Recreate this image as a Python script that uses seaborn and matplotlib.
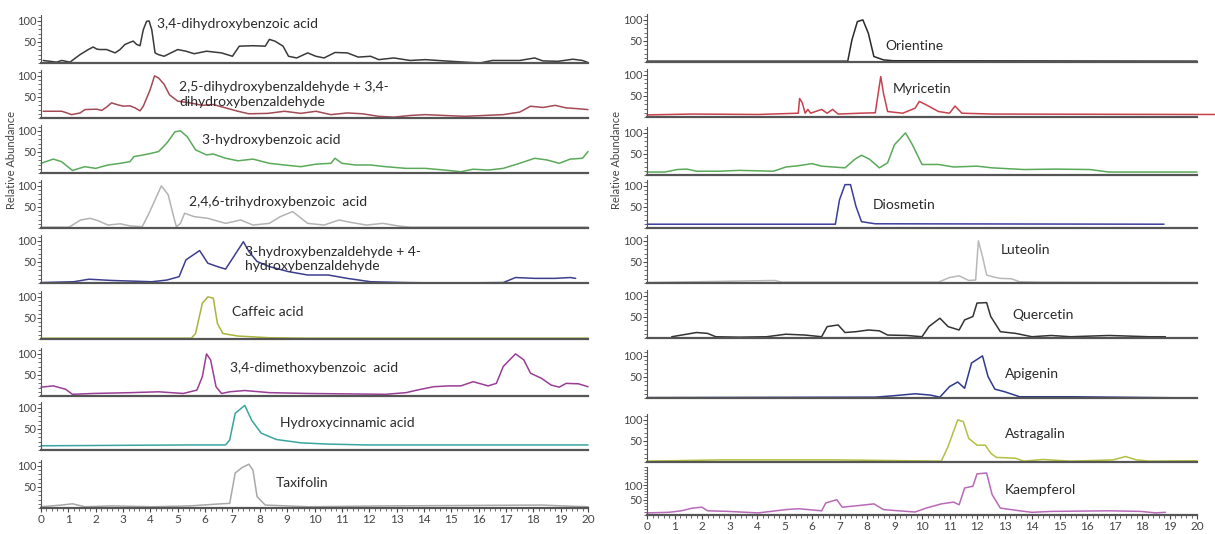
import matplotlib
matplotlib.use('Agg')
import matplotlib.pyplot as plt
import seaborn as sns
from matplotlib.ticker import MultipleLocator

# ---- left column: retention time (min) / relative abundance (%) ----
DHBA_T = [0.08, 0.57, 0.76, 1.06, 1.18, 1.43, 1.73, 1.91, 2.04, 2.16, 2.4, 2.71, 2.89, 3.07, 3.25, 3.37, 3.5,
          3.62, 3.74, 3.86, 3.95, 4.05, 4.17, 4.29, 4.5, 4.75, 5.0, 5.3, 5.6, 6.05, 6.6, 7.0, 7.25, 7.75, 8.2,
          8.35, 8.55, 8.85, 9.05, 9.35, 9.75, 10.05, 10.35, 10.75, 11.2, 11.6, 12.05, 12.35, 12.9, 13.5, 14.05,
          14.75, 15.5, 16.05, 16.5, 17.5, 18.05, 18.35, 18.9, 19.45, 19.8, 20.0]
DHBA_Y = [6, 2, 6, 2, 8, 20, 32, 38, 33, 32, 32, 24, 32, 44, 49, 52, 44, 41, 79, 99, 100, 79, 24, 20, 16, 24,
          32, 28, 22, 28, 24, 16, 40, 41, 40, 56, 52, 40, 16, 12, 24, 16, 12, 25, 24, 14, 16, 8, 12, 6, 8, 5, 2,
          0, 6, 6, 12, 5, 4, 9, 6, 1]

DHBAL_T = [0.08, 0.76, 0.95, 1.12, 1.43, 1.61, 2.04, 2.22, 2.4, 2.58, 2.77, 3.01, 3.25, 3.44, 3.62, 3.74, 3.99,
           4.15, 4.3, 4.5, 4.7, 5.0, 5.45, 5.9, 6.3, 6.75, 7.2, 7.6, 8.3, 8.9, 9.5, 10.05, 10.6, 11.2, 11.75,
           12.35, 12.9, 13.5, 14.05, 14.75, 15.5, 16.2, 16.9, 17.5, 17.9, 18.35, 18.8, 19.2, 19.65, 20.0]
DHBAL_Y = [16, 16, 12, 8, 12, 20, 21, 18, 26, 36, 32, 28, 29, 24, 17, 28, 67, 100, 95, 80, 55, 40, 36, 30, 32,
           24, 16, 10, 11, 16, 11, 16, 8, 12, 10, 4, 2, 6, 8, 6, 4, 6, 8, 14, 28, 25, 30, 24, 22, 20]

HBA_T = [0.0, 0.45, 0.75, 1.15, 1.6, 2.0, 2.45, 2.9, 3.25, 3.4, 3.75, 4.05, 4.3, 4.6, 4.9, 5.1, 5.35, 5.65, 6.05,
         6.3, 6.75, 7.2, 7.75, 8.35, 8.9, 9.5, 10.05, 10.6, 10.75, 11.0, 11.5, 12.05, 12.6, 13.35, 14.05, 14.75,
         15.35, 15.8, 16.35, 16.9, 17.5, 18.05, 18.5, 18.95, 19.35, 19.8, 20.0]
HBA_Y = [23, 33, 27, 6, 15, 11, 19, 23, 27, 39, 43, 47, 51, 71, 98, 100, 86, 55, 43, 45, 35, 29, 33, 23, 19, 15,
         21, 23, 35, 23, 19, 19, 15, 11, 11, 7, 3, 9, 7, 11, 23, 35, 31, 23, 33, 35, 51]

THBA_T = [0.0, 0.95, 1.05, 1.45, 1.8, 2.1, 2.45, 2.9, 3.25, 3.7, 3.95, 4.4, 4.65, 4.85, 4.95, 5.1, 5.25, 5.6,
          6.1, 6.75, 7.3, 7.75, 8.35, 8.75, 9.2, 9.75, 10.35, 10.9, 11.35, 11.9, 12.5, 13.05, 13.5, 16.9, 20.0]
THBA_Y = [2, 2, 3, 19, 23, 17, 7, 10, 5, 3, 35, 100, 79, 27, 3, 11, 35, 27, 23, 11, 19, 7, 11, 27, 39, 11, 7,
          19, 13, 7, 11, 5, 2, 2, 2]

HBAL_T = [0.0, 1.2, 1.75, 2.6, 4.05, 4.6, 5.05, 5.3, 5.8, 6.1, 6.45, 6.75, 7.05, 7.4, 7.6, 7.9, 8.35, 9.05,
          9.75, 10.5, 11.2, 12.05, 13.35, 14.75, 16.9, 17.35, 18.05, 18.8, 19.35, 19.55]
HBAL_Y = [1, 3, 9, 6, 3, 7, 15, 55, 77, 47, 39, 33, 63, 98, 75, 51, 39, 27, 19, 19, 11, 3, 1, 0, 1, 13, 11, 11,
          13, 11]

CAF_T = [0.0, 5.5, 5.65, 5.9, 6.1, 6.3, 6.45, 6.65, 7.2, 8.35, 9.75, 20.0]
CAF_Y = [2, 2, 13, 85, 100, 97, 37, 13, 7, 3, 2, 2]

DMBA_T = [0.0, 0.45, 0.9, 1.15, 1.9, 3.3, 4.3, 5.2, 5.7, 5.9, 6.05, 6.2, 6.4, 6.6, 6.9, 7.45, 8.35, 9.75,
          11.2, 12.6, 13.35, 13.75, 14.35, 14.9, 15.35, 15.8, 16.35, 16.65, 16.9, 17.35, 17.65, 17.9, 18.3,
          18.65, 18.95, 19.2, 19.65, 20.0]
DMBA_Y = [21, 24, 16, 4, 6, 8, 10, 6, 14, 46, 100, 86, 22, 6, 10, 13, 8, 6, 5, 4, 8, 14, 22, 24, 24, 34, 24, 30,
          70, 100, 86, 54, 42, 26, 21, 30, 29, 22]

HCA_T = [0.0, 5.45, 6.75, 6.9, 7.1, 7.45, 7.7, 8.05, 8.6, 9.5, 10.5, 11.9, 20.0]
HCA_Y = [10, 12, 12, 24, 87, 106, 71, 40, 25, 17, 14, 12, 12]

TAX_T = [0.0, 0.75, 1.15, 1.6, 2.6, 4.05, 5.45, 6.6, 6.9, 7.1, 7.35, 7.6, 7.75, 7.9, 8.2, 9.75, 12.6, 18.35,
         19.05, 20.0]
TAX_Y = [3, 7, 10, 3, 5, 3, 5, 10, 11, 83, 96, 104, 90, 27, 7, 3, 5, 7, 5, 3]

# ---- right column ----
ORI_T = [0.0, 7.3, 7.45, 7.65, 7.85, 8.05, 8.25, 8.6, 8.95, 20.0]
ORI_Y = [2, 2, 52, 96, 100, 68, 13, 5, 3, 2]

MYR_T = [0.0, 1.65, 4.05, 5.5, 5.55, 5.65, 5.75, 5.85, 5.95, 6.35, 6.55, 6.75, 6.95, 7.75, 8.3, 8.5, 8.6, 8.75,
         9.3, 9.75, 9.9, 10.15, 10.6, 11.0, 11.2, 11.45, 12.55, 20.0, 20.65]
MYR_Y = [5, 7, 6, 9, 44, 33, 9, 18, 9, 18, 9, 18, 7, 9, 10, 96, 56, 13, 9, 21, 37, 29, 13, 9, 26, 9, 7, 6, 6]

GRN_T = [0.0, 0.65, 1.1, 1.45, 1.8, 2.65, 3.35, 4.6, 5.05, 5.5, 6.0, 6.35, 7.2, 7.55, 7.8, 8.1, 8.45, 8.75,
         9.0, 9.4, 9.65, 10.0, 10.6, 11.15, 12.0, 12.55, 13.7, 14.85, 16.1, 16.8, 20.0]
GRN_Y = [7, 7, 13, 14, 9, 9, 11, 9, 19, 22, 27, 21, 17, 37, 47, 37, 17, 29, 72, 100, 72, 25, 25, 19, 21, 17, 13,
         14, 13, 7, 7]

DIO_T = [0.0, 6.85, 7.0, 7.2, 7.4, 7.6, 7.8, 8.3, 18.8]
DIO_Y = [9, 9, 67, 103, 103, 51, 15, 10, 9]

LUT_T = [0.0, 4.65, 4.9, 6.2, 10.6, 11.0, 11.35, 11.7, 11.95, 12.05, 12.2, 12.35, 12.55, 12.85, 13.25, 13.55,
         14.25, 20.0]
LUT_Y = [1, 6, 2, 2, 2, 13, 17, 6, 7, 100, 63, 19, 15, 11, 10, 3, 2, 1]

QUE_T = [0.9, 1.8, 2.2, 2.5, 3.35, 4.35, 5.05, 5.75, 6.35, 6.55, 6.95, 7.2, 7.6, 8.05, 8.45, 8.75, 9.45, 10.0,
         10.25, 10.65, 10.95, 11.35, 11.55, 11.85, 12.0, 12.35, 12.5, 12.85, 13.4, 14.0, 14.7, 15.4, 16.8,
         18.25, 18.85]
QUE_Y = [3, 13, 11, 3, 2, 3, 9, 7, 3, 27, 31, 13, 15, 19, 17, 7, 6, 3, 27, 47, 27, 19, 43, 51, 83, 84, 51, 15,
         11, 3, 6, 3, 6, 3, 3]

API_T = [0.0, 8.3, 8.9, 9.75, 10.3, 10.65, 11.0, 11.3, 11.55, 11.8, 12.2, 12.4, 12.65, 13.0, 13.55, 15.4, 20.0]
API_Y = [1, 2, 5, 10, 7, 2, 27, 38, 23, 83, 100, 51, 21, 15, 3, 3, 0]

AST_T = [0.0, 2.65, 6.9, 10.7, 10.95, 11.3, 11.5, 11.7, 12.0, 12.3, 12.5, 12.7, 13.4, 13.7, 14.4, 15.4, 16.95,
         17.4, 17.8, 18.25, 20.0]
AST_Y = [2, 5, 5, 2, 37, 100, 96, 56, 40, 40, 21, 11, 9, 2, 6, 2, 5, 13, 5, 2, 3]

KAE_T = [0.0, 0.8, 1.25, 1.65, 2.0, 2.2, 2.95, 4.05, 5.05, 5.5, 6.35, 6.5, 6.9, 7.1, 7.75, 8.25, 8.6, 9.15,
         9.75, 10.15, 10.7, 11.15, 11.35, 11.55, 11.85, 12.0, 12.35, 12.55, 12.85, 13.55, 14.0, 14.7, 16.8,
         17.95, 18.5, 18.85]
KAE_Y = [7, 9, 14, 23, 26, 14, 12, 7, 18, 21, 14, 40, 51, 26, 32, 37, 18, 14, 10, 23, 37, 43, 34, 90, 96, 137,
         140, 68, 23, 14, 9, 12, 14, 12, 7, 9]

LEFT_NAMES = ['3,4-dihydroxybenzoic acid', '2,5-dihydroxybenzaldehyde + 3,4-\ndihydroxybenzaldehyde',
              '3-hydroxybenzoic acid', '2,4,6-trihydroxybenzoic  acid',
              '3-hydroxybenzaldehyde + 4-\nhydroxybenzaldehyde', 'Caffeic acid',
              '3,4-dimethoxybenzoic  acid', 'Hydroxycinnamic acid', 'Taxifolin']
RIGHT_NAMES = ['Orientine', 'Myricetin', '', 'Diosmetin', 'Luteolin', 'Quercetin', 'Apigenin',
               'Astragalin', 'Kaempferol']

W, H = 1215, 534

left_panels = [(DHBA_T, DHBA_Y, '#3a3a3a'), (DHBAL_T, DHBAL_Y, '#a34a55'), (HBA_T, HBA_Y, '#5aaa5a'),
               (THBA_T, THBA_Y, '#b3b3b3'), (HBAL_T, HBAL_Y, '#3d3f8e'), (CAF_T, CAF_Y, '#a9b43c'),
               (DMBA_T, DMBA_Y, '#9a3d96'), (HCA_T, HCA_Y, '#3aa5a0'), (TAX_T, TAX_Y, '#a8a8a8')]
right_panels = [(ORI_T, ORI_Y, '#2a2a2a'), (MYR_T, MYR_Y, '#c8404c'), (GRN_T, GRN_Y, '#5aaa5a'),
                (DIO_T, DIO_Y, '#3b3d9c'), (LUT_T, LUT_Y, '#b8b8b8'), (QUE_T, QUE_Y, '#333333'),
                (API_T, API_Y, '#2e3a8c'), (AST_T, AST_Y, '#b4c040'), (KAE_T, KAE_Y, '#b86ab8')]

# layout in pixels: axis baseline per panel, and label anchor (time, abundance)
left_base = [63, 118, 173, 228, 283, 339, 396, 450, 508]
right_base = [62, 117, 175, 228, 283, 338, 398, 462, 515]
left_lab = [(4.25, 93), (5.05, 56), (5.9, 78), (5.4, 62), (7.45, 57), (7.0, 64), (6.9, 67), (8.75, 64),
            (8.6, 60)]
right_lab = [(8.65, 38), (8.95, 67), (0, 0), (8.2, 55), (12.85, 78), (13.3, 55), (13.0, 57), (13.0, 67),
             (13.0, 83)]

sns.set_style('white')
plt.rcParams['font.family'] = ['Lato', 'DejaVu Sans']

fig = plt.figure(figsize=(W / 100, H / 100), dpi=100)


def make_axis(x0, x1, base, ymax, last):
    ax = fig.add_axes([x0 / W, 1 - base / H, (x1 - x0) / W, 48 / H])
    ax.set_xlim(0, 20)
    ax.set_ylim(0, ymax)
    sns.despine(ax=ax, top=True, right=True)
    ax.spines['bottom'].set_color('#555555')
    ax.spines['bottom'].set_linewidth(1.6)
    ax.spines['left'].set_color('#555555')
    ax.spines['left'].set_linewidth(0.8)
    ax.set_yticks([50, 100])
    ax.yaxis.set_minor_locator(MultipleLocator(10))
    ax.tick_params(axis='y', which='major', length=3, width=0.7, labelsize=8, pad=0.5,
                   colors='#444444', direction='out', left=True)
    ax.tick_params(axis='y', which='minor', length=2, width=0.6, colors='#555555', left=True)
    if last:
        ax.set_xticks(range(0, 21))
        ax.xaxis.set_minor_locator(MultipleLocator(0.2))
        ax.tick_params(axis='x', which='major', length=3, width=0.8, labelsize=8.5, pad=1,
                       colors='#444444', bottom=True)
        ax.tick_params(axis='x', which='minor', length=2, width=0.6, colors='#555555', bottom=True)
    else:
        ax.set_xticks([])
    ax.patch.set_alpha(0)
    return ax


for col, panels, bases, labs, names, (x0, x1) in [
        ('L', left_panels, left_base, left_lab, LEFT_NAMES, (41, 588)),
        ('R', right_panels, right_base, right_lab, RIGHT_NAMES, (647, 1197))]:
    for i, (t, y, c) in enumerate(panels):
        ymax = 160 if (col == 'R' and i == 8) else 114
        ax = make_axis(x0, x1, bases[i], ymax, i == 8)
        sns.lineplot(x=t, y=y, ax=ax, color=c, linewidth=1.1, clip_on=False)
        ax.set_xlabel('')
        ax.set_ylabel('')
        if names[i]:
            ax.text(labs[i][0], labs[i][1], names[i], fontsize=10, color='#2a2a2a',
                    ha='left', va='center', linespacing=1.3)

fig.text(12 / W, 1 - 160 / H, 'Relative Abundance', rotation=90, ha='center', va='center',
         fontsize=8, color='#444444')
fig.text(617 / W, 1 - 160 / H, 'Relative Abundance', rotation=90, ha='center', va='center',
         fontsize=8, color='#444444')

fig.savefig('out.png', dpi=100)
